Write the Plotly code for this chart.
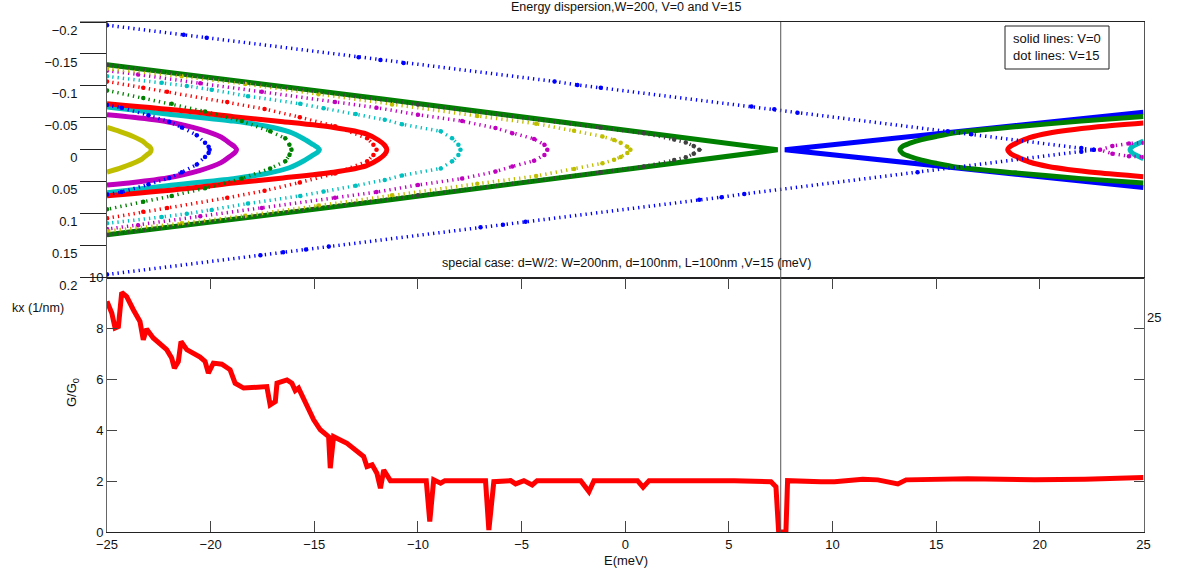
import plotly.graph_objects as go

W, H = 1177, 574

# ---------------- data ----------------
# Solid lines (V=0): upper-branch |kx| values, ordered far end -> vertex
SOL_Y_L_E = [-25, -24.4, -23.74, -23.3, -23.08, -22.92, -22.87]
SOL_Y_L_K = [0.035, 0.029, 0.021, 0.014, 0.008, 0.004, 0]
SOL_M_L_E = [-25, -23.74, -22.1, -20.5, -19.5, -19.06, -18.85, -18.75]
SOL_M_L_K = [0.055, 0.051, 0.044, 0.032, 0.020, 0.010, 0.005, 0]
SOL_C_L_E = [-25, -22.1, -18.9, -17.3, -16.2, -15.5, -15.05, -14.85, -14.75]
SOL_C_L_K = [0.067, 0.056, 0.045, 0.037, 0.028, 0.017, 0.008, 0.004, 0]
SOL_R_L_E = [-25, -21, -18.9, -16.5, -14.07, -12.5, -11.9, -11.6, -11.5]
SOL_R_L_K = [0.072, 0.060, 0.052, 0.044, 0.035, 0.025, 0.015, 0.007, 0]
SOL_G_L_E = [-25, -11.8, 7.35]
SOL_G_L_K = [0.133, 0.080, 0]
SOL_B_R_E = [25, 7.7]
SOL_B_R_K = [0.059, 0]
SOL_G_R_E = [25, 22.0, 18.8, 16.0, 15.0, 14.3, 13.7, 13.4, 13.25]
SOL_G_R_K = [0.052, 0.045, 0.036, 0.027, 0.021, 0.016, 0.010, 0.006, 0]
SOL_R_R_E = [25, 22.8, 20.4, 19.5, 18.9, 18.6, 18.45]
SOL_R_R_K = [0.042, 0.036, 0.026, 0.019, 0.011, 0.006, 0]
SOL_C_R_E = [25, 24.75, 24.5, 24.35]
SOL_C_R_K = [0.014, 0.010, 0.006, 0]

# Dotted lines (V=15)
DOT_B_UP_E = [-25, -21.3, -20.19, -12.86, -11.81, -10.69, -3.41, -2.31, -1.18, 6.09, 7.19, 8.31, 15.56, 16.69, 22.0, 22.6]
DOT_B_UP_K = [-0.195, -0.180, -0.1755, -0.145, -0.1406, -0.136, -0.107, -0.1016, -0.097, -0.0677, -0.0635, -0.058, -0.029, -0.0245, -0.003, 0]
DOT_B_LO_E = [-25, -17.6, -16.5, -15.4, -14.3, -6.98, -5.9, -4.81, 3.57, 4.65, 5.74, 14.1, 22.0, 22.6]
DOT_B_LO_K = [0.195, 0.165, 0.160, 0.156, 0.151, 0.121, 0.117, 0.1125, 0.078, 0.074, 0.069, 0.035, 0.003, 0]
DOT_B2_E = [-25, -24.3, -23.0, -22.0, -21.39, -20.67, -20.27, -20.1, -20.05]
DOT_B2_K = [0.070, 0.066, 0.054, 0.044, 0.035, 0.023, 0.011, 0.005, 0]
DOT_G_E = [-25, -23.25, -21.88, -20.27, -18.5, -17.13, -16.4, -16.2, -16.1]
DOT_G_K = [0.093, 0.081, 0.072, 0.060, 0.045, 0.029, 0.018, 0.008, 0]
DOT_R_E = [-25, -23.25, -22.1, -19.2, -17.4, -15.7, -14.0, -12.45, -12.15, -12.0]
DOT_R_K = [0.107, 0.097, 0.091, 0.075, 0.064, 0.051, 0.037, 0.018, 0.008, 0]
DOT_C_E = [-25, -22.36, -21.15, -19.95, -18.2, -15.68, -14.55, -13.0, -11.6, -10.77, -8.9, -8.35, -8.05, -7.95]
DOT_C_K = [0.115, 0.105, 0.100, 0.094, 0.084, 0.072, 0.065, 0.056, 0.047, 0.040, 0.029, 0.018, 0.008, 0]
DOT_M_E = [-25, -23.5, -20.5, -17.53, -14.0, -12.0, -10.0, -7.87, -6.26, -5.45, -4.4, -3.9, -3.76]
DOT_M_K = [0.124, 0.118, 0.104, 0.091, 0.075, 0.066, 0.055, 0.045, 0.034, 0.026, 0.017, 0.008, 0]
DOT_Y_E = [-25, -21.4, -18.33, -14.8, -11.25, -7.14, -4.3, -2.47, -1.1, -0.54, -0.22, 0.1, 0.25]
DOT_Y_K = [0.127, 0.115, 0.103, 0.087, 0.071, 0.053, 0.041, 0.030, 0.021, 0.0156, 0.011, 0.005, 0]
DOT_K_E = [-25, -10, -1.2, 0.9, 2.36, 2.92, 3.3, 3.57]
DOT_K_K = [0.133, 0.071, 0.035, 0.026, 0.016, 0.0115, 0.006, 0]
DOT_M_R_E = [25, 24.3, 23.5, 22.9]
DOT_M_R_K = [0.011, 0.010, 0.006, 0]

# Conductance G/G0 vs E
G_E = [-25, -24.77, -24.61, -24.45, -24.29, -24.05, -23.73, -23.41, -23.25, -23.09,
       -22.77, -22.12, -21.88, -21.75, -21.56, -21.43, -21.15, -20.51, -20.27, -20.11,
       -19.87, -19.46, -19.06, -18.82, -18.41, -17.29, -17.13, -16.88, -16.8, -16.32,
       -16.08, -15.92, -15.76, -15.03, -14.71, -14.47, -14.31, -14.23, -14.07, -13.42,
       -12.62, -12.46, -12.21, -11.98, -11.81, -11.65, -11.33, -10.85, -9.6, -9.43,
       -9.24, -8.91, -8.7, -6.74, -6.58, -6.34, -5.53, -5.29, -4.89, -4.49,
       -4.25, -2.15, -1.75, -1.51, 0.59, 0.86, 1.15, 5.26, 7.03, 7.27,
       7.40, 7.75, 7.83, 9.44, 10.09, 11.46, 12.18, 13.15, 13.55, 16.53,
       19.75, 22.17, 25.0]
G_VAL = [9.07, 8.61, 8.02, 8.08, 9.42, 9.26, 8.74, 8.28, 7.56, 7.98,
         7.63, 7.17, 6.84, 6.44, 6.70, 7.49, 7.17, 6.88, 6.71, 6.25,
         6.64, 6.60, 6.38, 5.85, 5.66, 5.72, 5.00, 5.13, 5.85, 5.98,
         5.85, 5.56, 5.66, 4.41, 4.02, 3.89, 3.75, 2.51, 3.75, 3.49,
         2.97, 2.57, 2.64, 2.31, 1.72, 2.44, 2.02, 2.02, 2.02, 0.41,
         2.05, 1.92, 2.02, 2.02, 0.08, 1.98, 2.02, 1.89, 2.02, 1.85,
         2.02, 2.02, 1.59, 2.02, 2.02, 1.76, 2.02, 2.02, 1.98, 1.78,
         0.0, 0.0, 2.02, 1.98, 1.98, 2.07, 2.05, 1.89, 2.05, 2.09,
         2.05, 2.07, 2.14]

KX_TICKS = [-0.2, -0.15, -0.1, -0.05, 0, 0.05, 0.1, 0.15, 0.2]
G_TICKS = [0, 2, 4, 6, 8, 10]
E_TICKS = [-25, -20, -15, -10, -5, 0, 5, 10, 15, 20, 25]
E_DIRAC = 7.5

C = dict(b="#0000ff", g="#008000", r="#ff0000", c="#00bfbf", m="#bf00bf", y="#bfbf00", k="#404040")
FONT = "Liberation Sans, Arial, sans-serif"


def mirror(E, K):
    xs = list(E) + list(E[::-1][1:])
    ys = [-k for k in K] + [k for k in K[::-1][1:]]
    return xs, ys


fig = go.Figure()

# (E, K, colour, rounded vertex?)
solid = [
    (SOL_C_L_E, SOL_C_L_K, "c", True), (SOL_R_L_E, SOL_R_L_K, "r", True),
    (SOL_M_L_E, SOL_M_L_K, "m", True), (SOL_Y_L_E, SOL_Y_L_K, "y", True),
    (SOL_G_L_E, SOL_G_L_K, "g", False),
    (SOL_B_R_E, SOL_B_R_K, "b", False), (SOL_G_R_E, SOL_G_R_K, "g", True),
    (SOL_R_R_E, SOL_R_R_K, "r", True), (SOL_C_R_E, SOL_C_R_K, "c", True),
]
for E, K, col, rounded in solid:
    xs, ys = mirror(E, K)
    line = dict(color=C[col], width=5)
    if rounded:
        line.update(shape="spline", smoothing=0.7)
    fig.add_trace(go.Scatter(x=xs, y=ys, mode="lines", xaxis="x", yaxis="y",
                             line=line, showlegend=False, hoverinfo="skip"))

DASH = "1.3px,4px"
dotted = [
    (DOT_B2_E, DOT_B2_K, "b"), (DOT_G_E, DOT_G_K, "g"), (DOT_R_E, DOT_R_K, "r"),
    (DOT_C_E, DOT_C_K, "c"), (DOT_M_E, DOT_M_K, "m"), (DOT_Y_E, DOT_Y_K, "y"),
    (DOT_K_E, DOT_K_K, "k"), (DOT_M_R_E, DOT_M_R_K, "m"),
]
for E, K, col in dotted:
    xs, ys = mirror(E, K)
    fig.add_trace(go.Scatter(x=xs, y=ys, mode="lines+markers", xaxis="x", yaxis="y",
                             line=dict(color=C[col], width=3.5, dash=DASH),
                             marker=dict(color=C[col], size=4.5),
                             showlegend=False, hoverinfo="skip"))
for E, K in [(DOT_B_UP_E, DOT_B_UP_K), (DOT_B_LO_E, DOT_B_LO_K)]:
    fig.add_trace(go.Scatter(x=E, y=K, mode="lines+markers", xaxis="x", yaxis="y",
                             line=dict(color=C["b"], width=3.5, dash=DASH),
                             marker=dict(color=C["b"], size=4.5),
                             showlegend=False, hoverinfo="skip"))

fig.add_trace(go.Scatter(x=G_E, y=G_VAL, mode="lines", xaxis="x2", yaxis="y2",
                         line=dict(color="#ff0000", width=5), showlegend=False,
                         hoverinfo="skip"))

px = lambda v: v / W
py = lambda v: 1 - v / H
XDOM = [px(107), px(1143.5)]
LINE = "#222222"

fig.update_layout(
    width=W, height=H, margin=dict(l=0, r=0, t=0, b=0, autoexpand=False),
    paper_bgcolor="white", plot_bgcolor="white",
    font=dict(family=FONT, size=13, color="#111111"),
    xaxis=dict(domain=XDOM, range=[-25, 25], anchor="y", showticklabels=False,
               ticks="", showline=True, mirror=True, linecolor=LINE, linewidth=1,
               showgrid=False, zeroline=False, automargin=False),
    yaxis=dict(domain=[py(277.7), py(22)], range=[0.2, -0.2], anchor="x",
               tickvals=KX_TICKS, ticks="outside", ticklen=26, tickcolor=LINE,
               ticklabelshift=-8,
               showline=True, mirror=True, linecolor="#555555", linewidth=1,
               showgrid=False, zeroline=False, automargin=False),
    xaxis2=dict(domain=XDOM, range=[-25, 25], anchor="y2", tickvals=E_TICKS,
                ticks="inside", ticklen=11, tickcolor="#444444", mirror="ticks",
                showline=True, linecolor=LINE, linewidth=1.2,
                showgrid=False, zeroline=False, automargin=False),
    yaxis2=dict(domain=[py(532), py(277.7)], range=[0, 10], anchor="x2",
                tickvals=G_TICKS, ticks="inside", ticklen=10, tickcolor="#444444",
                mirror="ticks", showline=True, linecolor="#666666", linewidth=1,
                showgrid=False, zeroline=False, automargin=False),
)

fig.add_shape(type="line", xref="paper", yref="paper", x0=px(80), x1=px(108),
              y0=py(22), y1=py(22), line=dict(color=LINE, width=1))
fig.add_shape(type="line", xref="x", yref="paper", x0=E_DIRAC, x1=E_DIRAC,
              y0=py(532), y1=py(22), line=dict(color="#555555", width=1))
fig.add_shape(type="rect", xref="paper", yref="paper", x0=px(1005), x1=px(1109),
              y0=py(69), y1=py(26), line=dict(color="#222222", width=1),
              fillcolor="white")

ann = [
    dict(text="Energy dispersion,W=200, V=0 and V=15", x=px(626), y=py(7),
         xanchor="center", yanchor="middle", font=dict(size=12.5)),
    dict(text="solid lines: V=0<br>dot lines: V=15", x=px(1011), y=py(29),
         xanchor="left", yanchor="top", align="left", font=dict(size=13)),
    dict(text="special case: d=W/2: W=200nm, d=100nm, L=100nm ,V=15 (meV)",
         x=px(626), y=py(263), xanchor="center", yanchor="middle", font=dict(size=12.5)),
    dict(text="kx (1/nm)", x=px(10), y=py(308), xanchor="left", yanchor="middle",
         font=dict(size=12.5)),
    dict(text="25", x=px(1145), y=py(317), xanchor="left", yanchor="middle",
         font=dict(size=13)),
    dict(text="G/G<sub>0</sub>", x=px(72), y=py(393), xanchor="center",
         yanchor="middle", textangle=-90, font=dict(size=13)),
    dict(text="E(meV)", x=px(626), y=py(560), xanchor="center", yanchor="middle",
         font=dict(size=13)),
]
for a in ann:
    fig.add_annotation(xref="paper", yref="paper", showarrow=False, **a)

fig.write_html("out.html")
